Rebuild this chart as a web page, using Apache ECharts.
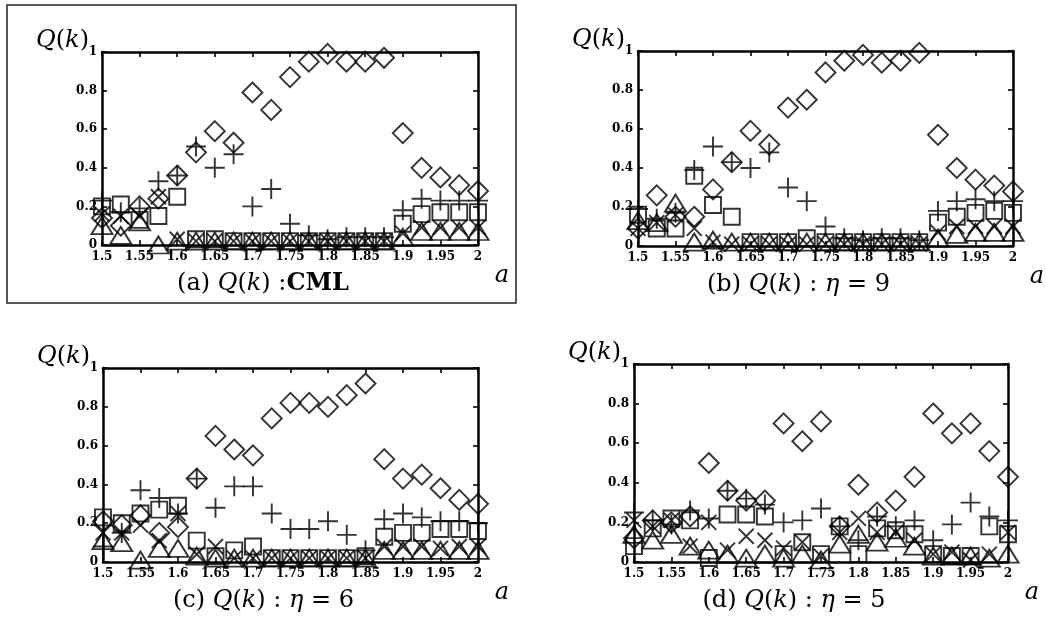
<!DOCTYPE html>
<html>
<head>
<meta charset="utf-8">
<script src="https://cdn.jsdelivr.net/npm/echarts@6/dist/echarts.min.js"></script>
<style>
html,body{margin:0;padding:0;background:#fff;}
#chart{width:1046px;height:625px;}
</style>
</head>
<body>
<div id="chart"></div>
<script>
// x values (a)
const aVals = [1.5, 1.525, 1.55, 1.575, 1.6, 1.625, 1.65, 1.675, 1.7, 1.725, 1.75, 1.775, 1.8, 1.825, 1.85, 1.875, 1.9, 1.925, 1.95, 1.975, 2.0];
const xTickLabels = ['1.5', '1.55', '1.6', '1.65', '1.7', '1.75', '1.8', '1.85', '1.9', '1.95', '2'];
const yTickLabels = ['0', '0.2', '0.4', '0.6', '0.8', '1'];

// (a) CML
const diamondA  = [0.14, 0.10, 0.20, 0.24, 0.36, 0.48, 0.59, 0.53, 0.79, 0.70, 0.87, 0.95, 0.99, 0.95, 0.95, 0.97, 0.58, 0.40, 0.35, 0.31, 0.28];
const plusA     = [0.23, 0.17, 0.19, 0.33, 0.36, 0.51, 0.40, 0.47, 0.20, 0.29, 0.11, 0.05, 0.03, 0.04, 0.04, 0.04, 0.18, 0.24, 0.23, 0.23, 0.23];
const squareA   = [0.20, 0.21, 0.13, 0.15, 0.25, 0.03, 0.03, 0.02, 0.02, 0.02, 0.02, 0.02, 0.02, 0.02, 0.02, 0.02, 0.11, 0.16, 0.17, 0.17, 0.17];
const crossA    = [0.16, 0.15, 0.15, 0.25, 0.03, 0.02, 0.02, 0.02, 0.02, 0.02, 0.02, 0.02, 0.02, 0.02, 0.02, 0.02, 0.06, 0.09, 0.09, 0.09, 0.09];
const triangleA = [0.10, 0.05, 0.12, 0.00, 0.02, 0.02, 0.02, 0.02, 0.02, 0.02, 0.02, 0.02, 0.02, 0.02, 0.02, 0.02, 0.04, 0.07, 0.07, 0.07, 0.07];

// (b) eta = 9
const diamondB  = [0.09, 0.26, 0.15, 0.15, 0.29, 0.43, 0.59, 0.52, 0.71, 0.75, 0.89, 0.95, 0.98, 0.94, 0.95, 0.99, 0.57, 0.40, 0.34, 0.31, 0.28];
const plusB     = [0.19, 0.14, 0.17, 0.39, 0.51, 0.43, 0.40, 0.48, 0.30, 0.23, 0.10, 0.04, 0.03, 0.04, 0.04, 0.03, 0.18, 0.23, 0.24, 0.23, 0.23];
const squareB   = [0.16, 0.09, 0.09, 0.36, 0.21, 0.15, 0.02, 0.02, 0.02, 0.04, 0.02, 0.02, 0.02, 0.02, 0.02, 0.02, 0.12, 0.15, 0.17, 0.18, 0.17];
const crossB    = [0.09, 0.12, 0.16, 0.09, 0.02, 0.01, 0.01, 0.01, 0.01, 0.01, 0.01, 0.01, 0.01, 0.01, 0.01, 0.01, 0.07, 0.10, 0.10, 0.10, 0.10];
const triangleB = [0.13, 0.12, 0.22, 0.02, 0.03, 0.02, 0.02, 0.02, 0.02, 0.02, 0.02, 0.02, 0.02, 0.02, 0.02, 0.02, 0.04, 0.06, 0.07, 0.07, 0.07];

// (c) eta = 6
const diamondC  = [0.21, 0.19, 0.24, 0.15, 0.18, 0.43, 0.65, 0.58, 0.55, 0.74, 0.82, 0.82, 0.80, 0.86, 0.92, 0.53, 0.43, 0.45, 0.38, 0.32, 0.30];
const plusC     = [0.08, 0.15, 0.37, 0.33, 0.25, 0.43, 0.28, 0.39, 0.39, 0.25, 0.17, 0.17, 0.21, 0.14, 0.06, 0.22, 0.25, 0.23, 0.21, 0.21, 0.20];
const squareC   = [0.23, 0.20, 0.25, 0.27, 0.29, 0.11, 0.03, 0.06, 0.08, 0.02, 0.02, 0.02, 0.02, 0.02, 0.03, 0.13, 0.15, 0.15, 0.17, 0.17, 0.16];
const crossC    = [0.15, 0.15, 0.19, 0.11, 0.25, 0.04, 0.08, 0.02, 0.02, 0.02, 0.02, 0.02, 0.02, 0.02, 0.02, 0.08, 0.08, 0.08, 0.07, 0.08, 0.08];
const triangleC = [0.11, 0.10, 0.01, 0.07, 0.07, 0.03, 0.02, 0.02, 0.02, 0.02, 0.02, 0.02, 0.02, 0.02, 0.02, 0.06, 0.06, 0.06, 0.06, 0.06, 0.06];

// (d) eta = 5
const diamondD  = [0.12, 0.21, 0.20, 0.23, 0.50, 0.36, 0.31, 0.31, 0.70, 0.61, 0.71, 0.18, 0.39, 0.25, 0.31, 0.43, 0.75, 0.65, 0.70, 0.56, 0.43];
const plusD     = [0.25, 0.21, 0.19, 0.26, 0.22, 0.36, 0.32, 0.29, 0.20, 0.21, 0.27, 0.18, 0.11, 0.23, 0.18, 0.21, 0.11, 0.19, 0.30, 0.23, 0.21];
const squareD   = [0.08, 0.17, 0.22, 0.21, 0.02, 0.24, 0.24, 0.23, 0.04, 0.10, 0.04, 0.18, 0.04, 0.17, 0.16, 0.14, 0.04, 0.03, 0.03, 0.18, 0.14];
const crossD    = [0.21, 0.18, 0.21, 0.08, 0.20, 0.06, 0.13, 0.11, 0.07, 0.10, 0.03, 0.15, 0.22, 0.15, 0.15, 0.11, 0.04, 0.05, 0.01, 0.04, 0.15];
const triangleD = [0.14, 0.11, 0.14, 0.08, 0.06, 0.04, 0.02, 0.04, 0.02, 0.04, 0.01, 0.09, 0.14, 0.10, 0.12, 0.08, 0.03, 0.03, 0.03, 0.02, 0.04];

const panelSeries = [
  [diamondA, plusA, squareA, crossA, triangleA],
  [diamondB, plusB, squareB, crossB, triangleB],
  [diamondC, plusC, squareC, crossC, triangleC],
  [diamondD, plusD, squareD, crossD, triangleD]
];
const panelTitles = [
  '(a) {i|Q}({i|k}) :{b|CML}',
  '(b) {i|Q}({i|k}) : {i|η} = 9',
  '(c) {i|Q}({i|k}) : {i|η} = 6',
  '(d) {i|Q}({i|k}) : {i|η} = 5'
];

const grids = [
  {left: 102, top: 52, width: 376, height: 193},
  {left: 638, top: 51, width: 375, height: 195},
  {left: 103, top: 368, width: 375, height: 194},
  {left: 634, top: 364, width: 374, height: 198}
];

const markerDefs = [
  {symbol: 'diamond', size: 20},
  {symbol: 'path://M0,5L10,5M5,0L5,10', size: 20},
  {symbol: 'rect', size: 16},
  {symbol: 'path://M0,0L10,10M10,0L0,10', size: 15},
  {symbol: 'triangle', size: [21, 17]}
];

const FONT = 'DejaVu Serif';
const FS = 24;
const axisLineStyle = {color: '#000', width: 2.5};
const tickStyle = {color: '#000', width: 1.6};
const tickFont = {color: '#000', fontFamily: 'DejaVu Serif', fontWeight: 'bold', fontSize: 12};

const xAxes = [], yAxes = [], series = [], graphics = [];
grids.forEach((g, gi) => {
  const xBase = {
    gridIndex: gi, type: 'value', min: 1.5, max: 2, interval: 0.05,
    axisLine: {show: true, onZero: false, lineStyle: axisLineStyle},
    axisTick: {show: true, inside: true, length: 5, lineStyle: tickStyle},
    splitLine: {show: false}
  };
  xAxes.push(Object.assign({}, xBase, {
    position: 'bottom',
    axisLabel: Object.assign({
      show: true, margin: 6,
      formatter: v => xTickLabels[Math.round((v - 1.5) / 0.05)]
    }, tickFont)
  }));
  xAxes.push(Object.assign({}, xBase, {position: 'top', axisLabel: {show: false}}));
  const yBase = {
    gridIndex: gi, type: 'value', min: 0, max: 1, interval: 0.2,
    axisLine: {show: true, onZero: false, lineStyle: axisLineStyle},
    axisTick: {show: true, inside: true, length: 5, lineStyle: tickStyle},
    splitLine: {show: false}
  };
  yAxes.push(Object.assign({}, yBase, {
    position: 'left',
    axisLabel: Object.assign({
      show: true, margin: 5,
      formatter: v => yTickLabels[Math.round(v / 0.2)]
    }, tickFont)
  }));
  yAxes.push(Object.assign({}, yBase, {position: 'right', axisLabel: {show: false}}));

  panelSeries[gi].forEach((vals, si) => {
    const m = markerDefs[si];
    series.push({
      type: 'scatter',
      xAxisIndex: gi * 2, yAxisIndex: gi * 2,
      clip: false,
      symbol: m.symbol, symbolSize: m.size,
      itemStyle: {color: 'rgba(0,0,0,0)', borderColor: '#000', borderWidth: 1.9},
      emphasis: {disabled: true},
      data: vals.map((v, i) => [aVals[i], v]),
      z: 3 + si
    });
  });

  const rich = {
    i: {fontStyle: 'italic', fontFamily: FONT, fontSize: FS, fill: '#000'},
    b: {fontWeight: 'bold', fontFamily: FONT, fontSize: FS, fill: '#000'}
  };
  // y axis name
  graphics.push({
    type: 'text', x: g.left - 13, y: g.top + 1,
    style: {text: '{i|Q}({i|k})', rich: rich, fontFamily: FONT, fontSize: FS, fill: '#000',
            align: 'right', verticalAlign: 'bottom'}
  });
  // x axis name
  graphics.push({
    type: 'text', x: g.left + g.width + 24, y: g.top + g.height + 31,
    style: {text: '{i|a}', rich: rich, fontFamily: FONT, fontSize: FS, fill: '#000',
            align: 'center', verticalAlign: 'middle'}
  });
  // panel title
  graphics.push({
    type: 'text', x: g.left + g.width / 2 - 27, y: g.top + g.height + 39,
    style: {text: panelTitles[gi], rich: rich, fontFamily: FONT, fontSize: FS, fill: '#000',
            align: 'center', verticalAlign: 'middle'}
  });
});

graphics.push({
  type: 'rect', shape: {x: 7, y: 5, width: 509, height: 298},
  style: {fill: 'none', stroke: '#222', lineWidth: 1.5}, z: -1
});

const chart = echarts.init(document.getElementById('chart'), null, {renderer: 'canvas'});
chart.setOption({
  backgroundColor: '#fff',
  animation: false,
  grid: grids.map(g => Object.assign({containLabel: false}, g)),
  xAxis: xAxes,
  yAxis: yAxes,
  series: series,
  graphic: graphics
});
</script>
</body>
</html>
